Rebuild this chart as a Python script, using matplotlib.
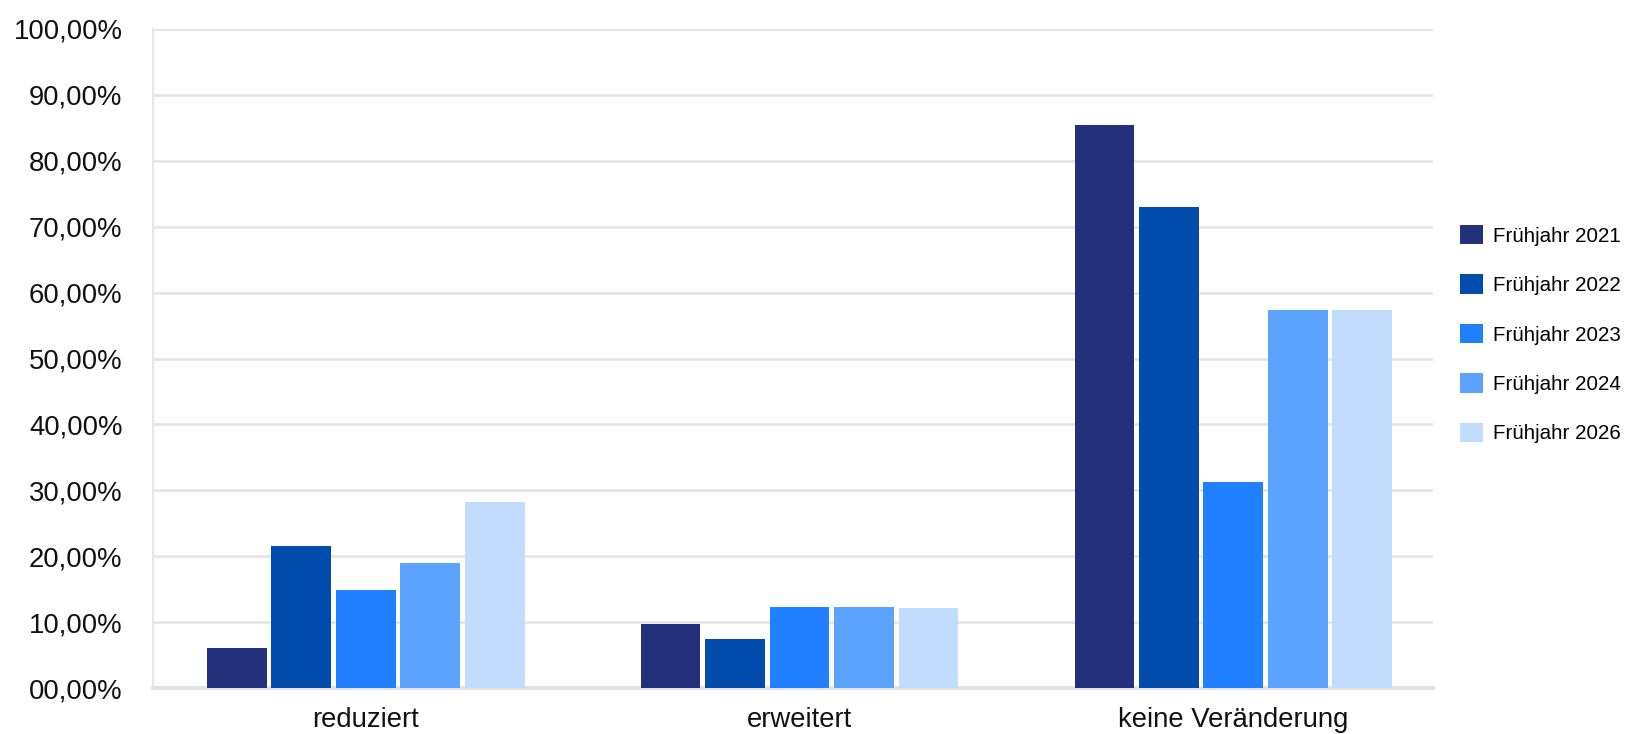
import matplotlib
matplotlib.use("Agg")
import matplotlib.pyplot as plt
import numpy as np
from matplotlib.patches import Patch

plt.rcParams['font.family'] = ['Liberation Sans', 'DejaVu Sans']

categories = ["reduziert", "erweitert", "keine Veränderung"]
series_names = ["Frühjahr 2021", "Frühjahr 2022", "Frühjahr 2023", "Frühjahr 2024", "Frühjahr 2026"]
values = {
    "Frühjahr 2021": [6.1, 9.7, 85.4],
    "Frühjahr 2022": [21.5, 7.5, 73.0],
    "Frühjahr 2023": [14.9, 12.3, 31.3],
    "Frühjahr 2024": [19.0, 12.3, 57.3],
    "Frühjahr 2026": [28.2, 12.1, 57.3],
}
colors = ["#23317c", "#024cad", "#2180ff", "#5ca2ff", "#c2dcff"]
y_ticks = [0, 10, 20, 30, 40, 50, 60, 70, 80, 90, 100]
y_ticklabels = ["00,00%", "10,00%", "20,00%", "30,00%", "40,00%", "50,00%",
                "60,00%", "70,00%", "80,00%", "90,00%", "100,00%"]

W, H = 1637, 734
fig = plt.figure(figsize=(W / 100, H / 100), dpi=100)
ax = fig.add_axes([153 / W, (H - 688) / H, (1433 - 153) / W, (688 - 29) / H])

x = np.arange(len(categories))
pitch = 0.1486
bw = 0.138
for i, name in enumerate(series_names):
    ax.bar(x + (i - 2) * pitch, values[name], width=bw, color=colors[i], zorder=3)

ax.set_xlim(-0.49, 2.46)
ax.set_ylim(0, 100)
ax.set_yticks(y_ticks)
ax.set_yticklabels(y_ticklabels, fontsize=19.8, color="#111111")
ax.set_xticks(x)
ax.set_xticklabels(categories, fontsize=19.8, color="#111111")
ax.tick_params(axis='y', length=0, pad=22)
ax.tick_params(axis='x', length=0, pad=14)
ax.grid(axis='y', color="#e6e6e6", linewidth=2, zorder=0)
for s in ['top', 'right']:
    ax.spines[s].set_visible(False)
ax.spines['left'].set_color("#e6e6e6")
ax.spines['left'].set_linewidth(1.5)
ax.spines['bottom'].set_color("#e3e3e3")
ax.spines['bottom'].set_linewidth(3)

handles = [Patch(facecolor=c, edgecolor='none') for c in colors]
fig.legend(handles, series_names, loc='upper left',
           bbox_to_anchor=(1460 / W, (H - 225) / H),
           frameon=False, fontsize=14.8, handlelength=1.12, handleheight=1.07,
           handletextpad=0.5, labelspacing=1.40, borderpad=0, borderaxespad=0)

fig.savefig("out.png", dpi=100)
